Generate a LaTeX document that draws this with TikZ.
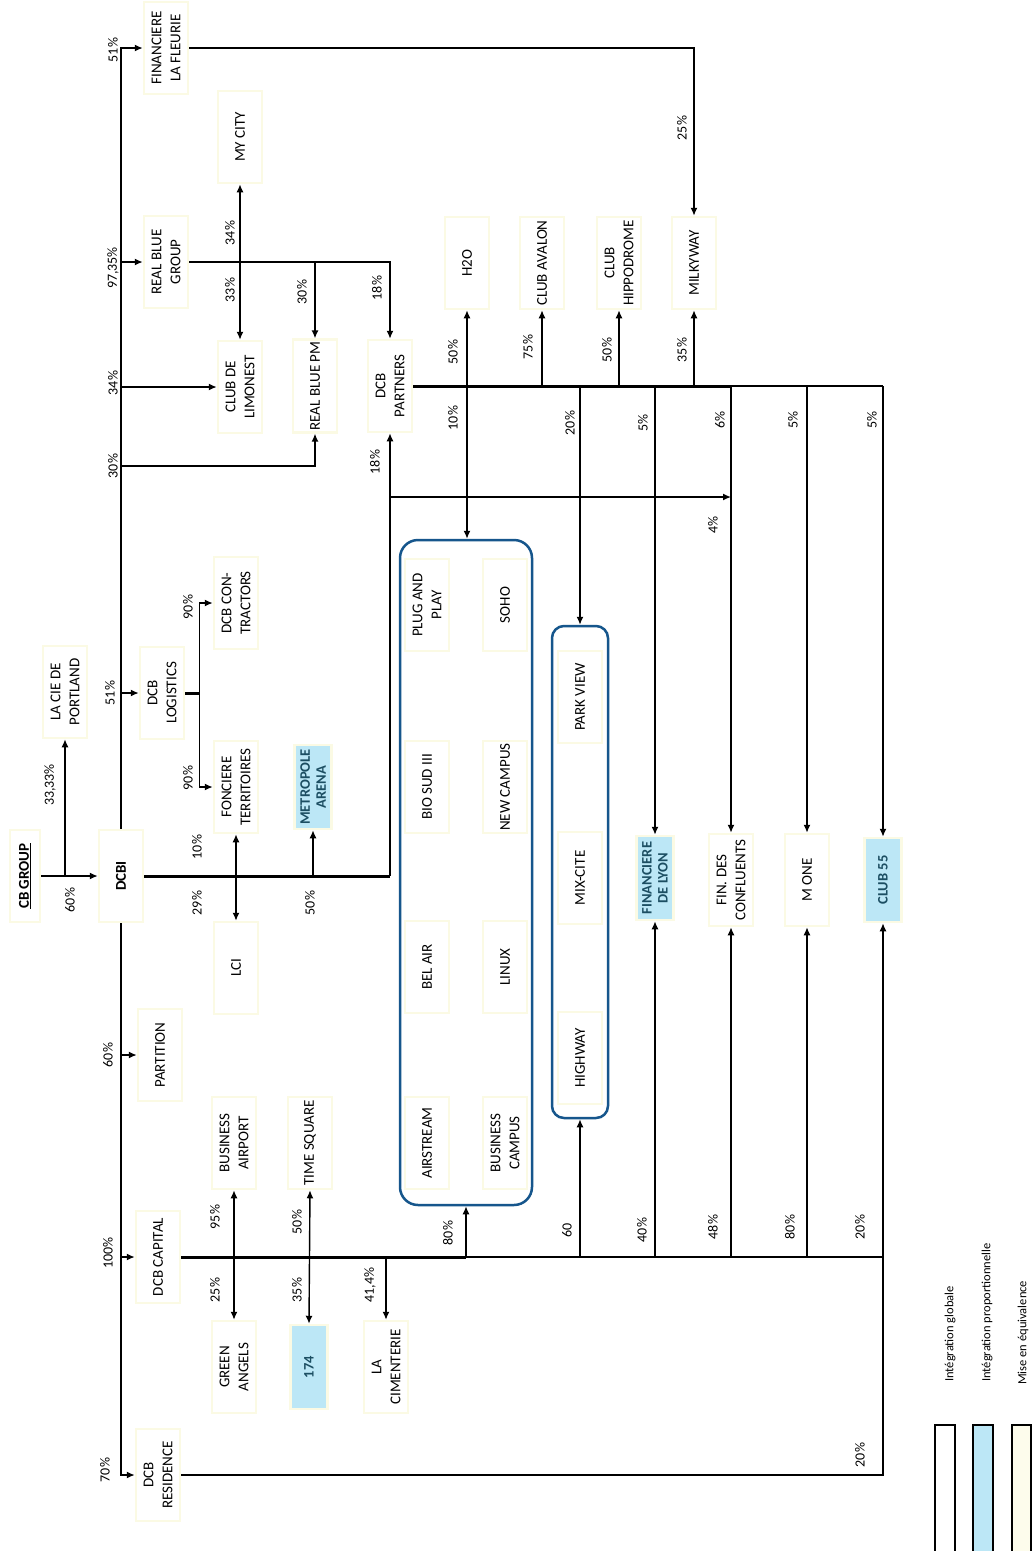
\documentclass[tikz,border=0pt]{standalone}
\usepackage{fontspec}
\setmainfont{Carlito}
\usepackage{tikz}
\usetikzlibrary{arrows.meta,positioning}
\definecolor{cream}{RGB}{251,250,228}
\definecolor{creamfill}{RGB}{253,252,236}
\definecolor{propblue}{RGB}{188,231,246}
\definecolor{propteal}{RGB}{28,78,98}
\definecolor{grpblue}{RGB}{22,86,140}
\tikzstyle{entity}=[rotate=90,draw=cream,line width=2.5pt,fill=white,align=center,minimum width=92pt,minimum height=44pt,inner sep=2pt,font=\fontsize{15}{19}\selectfont]
\tikzstyle{propent}=[entity,fill=propblue,minimum width=84pt,minimum height=37pt,text=propteal,font=\fontsize{14.5}{16}\selectfont\bfseries]
\tikzstyle{grpbox}=[draw=grpblue,line width=2.5pt,rounded corners=18pt]
\tikzstyle{pct}=[rotate=90,inner sep=1pt,font=\fontsize{14}{16}\selectfont]
\tikzstyle{legendtxt}=[rotate=90,inner sep=0pt,font=\fontsize{12.5}{14}\selectfont]
\tikzstyle{link}=[draw,line width=1.4pt,->]
\tikzstyle{dlink}=[draw,line width=1.4pt,<->]
\tikzstyle{bar}=[draw,line width=1.4pt]
\tikzstyle{thickbar}=[draw,line width=3pt]

\begin{document}
\begin{tikzpicture}[x=1pt,y=-1pt,>={Latex[length=8pt,width=7pt]}]
    \fill[white] (0,0) rectangle (1032,1551);
    \useasboundingbox (0,0) rectangle (1032,1551);
    % the two groups of buildings
    \node[grpbox,minimum width=132pt,minimum height=665pt] (grp1) at (466,872.5) {};
    \node[grpbox,minimum width=56pt,minimum height=492pt,rounded corners=12pt] (grp2) at (580,872) {};
    % First we draw the companies
    \foreach \pos/\name/\txt in {{(166,48)/fleurie/{FINANCIERE\\LA FLEURIE}}, {(166,262)/realbluegroup/{REAL BLUE\\GROUP}},
        {(240,137)/mycity/{MY CITY}}, {(240,387)/limonest/{CLUB DE\\LIMONEST}}, {(315,386)/realbluepm/{REAL BLUE PM}},
        {(390,386)/partners/{DCB\\PARTNERS}}, {(467,263)/h2o/{H2O}}, {(542,263)/avalon/{CLUB AVALON}},
        {(619,263)/hippodrome/{CLUB\\HIPPODROME}}, {(694,263)/milkyway/{MILKYWAY}},
        {(65,692)/portland/{LA CIE DE\\PORTLAND}}, {(162,693)/logistics/{DCB\\LOGISTICS}},
        {(236,603)/contractors/{DCB CON-\\TRACTORS}}, {(236,787)/foncieres/{FONCIERE\\TERRITOIRES}}, {(236,968)/lci/{LCI}},
        {(427,605)/plug/{PLUG AND\\PLAY}}, {(505,605)/soho/{SOHO}}, {(427,787)/biosud/{BIO SUD III}},
        {(505,787)/newcampus/{NEW CAMPUS}}, {(427,967)/belair/{BEL AIR}}, {(505,967)/linux/{LINUX}},
        {(427,1143)/airstream/{AIRSTREAM}}, {(505,1143)/buscampus/{BUSINESS\\CAMPUS}},
        {(580,697)/parkview/{PARK VIEW}}, {(580,878)/mixcite/{MIX-CITE}}, {(580,1058)/highway/{HIGHWAY}},
        {(731,880)/confluents/{FIN. DES\\CONFLUENTS}}, {(807,880)/mone/{M ONE}},
        {(160,1055)/partition/{PARTITION}}, {(158,1257)/capital/{DCB CAPITAL}}, {(158,1475)/residence/{DCB\\RESIDENCE}},
        {(234,1143)/busairport/{BUSINESS\\AIRPORT}}, {(310,1143)/timesquare/{TIME SQUARE}},
        {(234,1367)/greenangels/{GREEN\\ANGELS}}, {(386,1367)/cimenterie/{LA\\CIMENTERIE}}}
        \node[entity] (\name) at \pos {\txt};
    \node[entity,minimum height=30pt] (cbgroup) at (25,876) {\bfseries\underline{CB GROUP}};
    \node[entity] (dcbi) at (121,876) {\bfseries DCBI};
    \foreach \pos/\name/\txt in {{(313,787)/metropole/{METROPOLE\\ARENA}}, {(655,878)/finlyon/{FINANCIERE\\DE LYON}},
        {(883,880)/club55/{CLUB 55}}, {(309,1367)/n174/{174}}}
        \node[propent] (\name) at \pos {\txt};

    % Connect the companies
    \draw[link] (dcbi.east) |- (fleurie.north);
    \draw[link] (dcbi.east |- realbluegroup) -- (realbluegroup.north);
    \draw[link] (dcbi.east |- limonest) -- (limonest.north);
    \coordinate (jpm) at (dcbi.east |- 0,466);
    \draw[link] (jpm) -| (realbluepm.west);
    \draw[link] (dcbi.east |- logistics) -- (logistics.north);
    \draw[link] (dcbi.west) |- (residence.north);
    \draw[link] (dcbi.west |- partition) -- (partition.north);
    \draw[link] (dcbi.west |- capital) -- (capital.north);
    \draw[link] (cbgroup.south) -- (dcbi.north);
    \draw[link] (cbgroup.south -| portland) -- (portland.west);

    \draw[link] (realbluegroup.south) -| (partners.east);
    \draw[link] (realbluegroup.south -| realbluepm) -- (realbluepm.east);
    \draw[dlink] (mycity.west) -- (limonest.east);
    \draw[link] (fleurie.south) -| (milkyway.east);

    \draw[thickbar] (logistics.south) -- ++(14,0) coordinate (jlog);
    \draw[link] (jlog) |- (contractors.north);
    \draw[link] (jlog) |- (foncieres.north);

    \draw[thickbar] (dcbi.south) -- (dcbi.south -| partners);
    \draw[link] (dcbi.south -| partners) -- (partners.west);
    \draw[dlink] (foncieres.west) -- (lci.east);
    \draw[link] (dcbi.south -| metropole) -- (metropole.west);
    \coordinate (j4) at (partners.west |- 0,497);
    \draw[link] (j4) -- (j4 -| confluents);

    \draw[thickbar] (partners.south) -- (partners.south -| confluents);
    \draw[bar] (partners.south -| confluents) -- (partners.south -| club55);
    \draw[dlink] (h2o.west) -- (h2o |- grp1.north);
    \foreach \n in {avalon,hippodrome,milkyway}
        \draw[link] (partners.south -| \n) -- (\n.west);
    \draw[link] (partners.south -| grp2) -- (grp2.north);
    \foreach \n in {finlyon,confluents,mone,club55}
        \draw[link] (partners.south -| \n) -- (\n.east);

    \draw[thickbar] (capital.south) -- (capital.south -| grp1);
    \draw[bar] (capital.south -| grp1) -- (capital.south -| club55);
    \draw[dlink] (busairport.west) -- (greenangels.east);
    \draw[dlink] (timesquare.west) -- (n174.east);
    \draw[link] (capital.south -| cimenterie) -- (cimenterie.east);
    \draw[link] (capital.south -| grp1) -- (grp1.south);
    \draw[link] (capital.south -| grp2) -- (grp2.south);
    \foreach \n in {finlyon,confluents,mone}
        \draw[link] (capital.south -| \n) -- (\n.west);
    \draw[link] (residence.south) -| (club55.west);

    % percentages
    \foreach \pos/\name/\txt in {{(113,50)/p1/51\%}, {(113,268)/p2/{97{,}35\%}}, {(113,383)/p3/34\%}, {(113,466)/p4/30\%},
        {(230,233)/p5/34\%}, {(230,290)/p6/33\%}, {(302,292)/p7/30\%}, {(377,288)/p8/18\%}, {(682,128)/p9/25\%},
        {(50,785)/p10/{33{,}33\%}}, {(70,900)/p11/60\%}, {(110,693)/p12/51\%}, {(188,607)/p13/90\%}, {(188,778)/p14/90\%},
        {(197,847)/p15/10\%}, {(197,903)/p16/29\%}, {(310,903)/p17/50\%}, {(375,462)/p18/18\%},
        {(453,352)/p19/50\%}, {(453,418)/p20/10\%}, {(528,347)/p21/75\%}, {(607,350)/p22/50\%}, {(682,350)/p23/35\%},
        {(570,423)/p24/20\%}, {(643,423)/p25/5\%}, {(720,420)/p26/6\%}, {(793,420)/p27/5\%}, {(872,420)/p28/5\%},
        {(713,525)/p29/4\%}, {(108,1055)/p30/60\%}, {(108,1253)/p31/100\%}, {(105,1470)/p32/70\%},
        {(215,1217)/p33/95\%}, {(215,1290)/p34/25\%}, {(297,1222)/p35/50\%}, {(297,1290)/p36/35\%},
        {(370,1285)/p37/{41{,}4\%}}, {(448,1233)/p38/80\%}, {(567,1230)/p39/60}, {(642,1230)/p40/40\%},
        {(713,1227)/p41/48\%}, {(790,1227)/p42/80\%}, {(860,1227)/p43/20\%}, {(860,1455)/p44/20\%}}
        \node[pct] (\name) at \pos {\txt};

    % legend
    \fill[white] (935,1425) rectangle (955,1551);
    \fill[propblue] (973,1425) rectangle (993,1551);
    \fill[creamfill] (1012,1425) rectangle (1031,1551);
    \foreach \xa/\xb in {935/955, 973/993, 1012/1031}
        \draw[line width=1.6pt] (\xa,1551) -- (\xa,1425) -- (\xb,1425) -- (\xb,1551);
    \node[legendtxt,anchor=west] (lgglob) at (950,1382) {Intégration globale};
    \node[legendtxt,anchor=west] (lgprop) at (987,1382) {Intégration proportionnelle};
    \node[legendtxt,anchor=west] (lgequi) at (1023,1385) {Mise en équivalence};
\end{tikzpicture}
\end{document}
